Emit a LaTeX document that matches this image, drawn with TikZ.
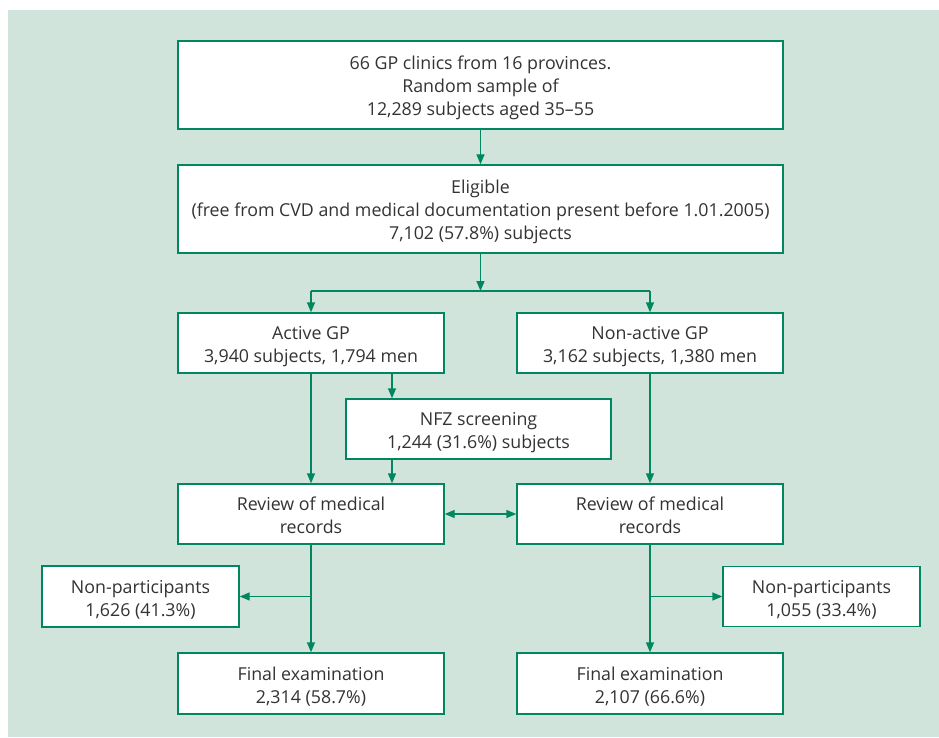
\documentclass[tikz,border=0pt]{standalone}
\usepackage{fontspec}
\setmainfont{Open Sans}
\usetikzlibrary{arrows.meta}
\definecolor{bg}{HTML}{D0E4DB}
\definecolor{gr}{HTML}{00875F}
\definecolor{tx}{HTML}{333333}
\newcommand\tstr{\rule{0pt}{20pt}}
\newcommand\bstr{\rule[-4pt]{0pt}{4pt}}
\tikzset{
  box/.style n args={2}{draw=gr, fill=white, line width=1.4pt, minimum width=#1, minimum height=#2,
    inner sep=0pt, align=center, text=tx, font=\fontsize{17.8}{23}\selectfont},
  arr/.style={draw=gr, line width=1.4pt, -{Triangle[length=10pt,width=8pt]}},
  dbl/.style={draw=gr, line width=1.4pt, {Triangle[length=10pt,width=8pt]}-{Triangle[length=10pt,width=8pt]}},
  ln/.style={draw=gr, line width=1.4pt}
}
\begin{document}
\begin{tikzpicture}[x=1pt,y=-1pt]
\useasboundingbox (0,0) rectangle (939,738);
\fill[bg] (8,10) rectangle (939,737);

\node[box={605}{88}] (src) at (480.5,85) {\tstr 66 GP clinics from 16 provinces.\\Random sample of\\12,289 subjects aged 35–55\bstr};
\node[box={605}{88}] (elig) at (480.5,209) {\tstr Eligible\\(free from CVD and medical documentation present before 1.01.2005)\\7,102 (57.8\%) subjects\bstr};
\node[box={266}{60}] (act) at (311,343) {\tstr Active GP\\3,940 subjects, 1,794 men\bstr};
\node[box={266}{60}] (nact) at (650,343) {\tstr Non-active GP\\3,162 subjects, 1,380 men\bstr};
\node[box={265}{60}] (nfz) at (478.5,429) {\tstr NFZ screening\\1,244 (31.6\%) subjects\bstr};
\node[box={266}{60}] (revL) at (311,514) {\tstr Review of medical\\records\bstr};
\node[box={266}{60}] (revR) at (650,514) {\tstr Review of medical\\records\bstr};
\node[box={197}{61}] (npL) at (140.5,596.5) {\tstr Non-participants\\1,626 (41.3\%)\bstr};
\node[box={197}{60}] (npR) at (821.5,596.5) {\tstr Non-participants\\1,055 (33.4\%)\bstr};
\node[box={266}{61}] (finL) at (311,683.5) {\tstr Final examination\\2,314 (58.7\%)\bstr};
\node[box={266}{61}] (finR) at (650,683.5) {\tstr Final examination\\2,107 (66.6\%)\bstr};

\coordinate (split) at (480.5,291);
\coordinate (nfzx) at (392,373);

\draw[arr] (src) -- (elig);
\draw[arr] (elig.south) -- (split);
\draw[ln] (act.north |- split) -- (nact.north |- split);
\draw[arr] (act.north |- split) -- (act.north);
\draw[arr] (nact.north |- split) -- (nact.north);
\draw[arr] (nfzx) -- (nfzx |- nfz.north);
\draw[arr] (nfzx |- nfz.south) -- (nfzx |- revL.north);
\draw[arr] (act.south) -- (revL.north);
\draw[arr] (nact.south) -- (revR.north);
\draw[dbl] (revL.east) -- (revR.west);
\draw[arr] (revL.south) -- (finL.north);
\draw[arr] (revL.south |- npL.east) -- (npL.east);
\draw[arr] (revR.south) -- (finR.north);
\draw[arr] (revR.south |- npR.west) -- (npR.west);
\end{tikzpicture}
\end{document}
